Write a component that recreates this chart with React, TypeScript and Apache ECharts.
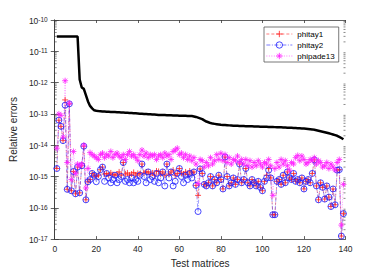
import { useEffect, useRef } from "react";
import * as echarts from "echarts";

const xTicks = [0, 20, 40, 60, 80, 100, 120, 140];
const yTickExponents = [-17, -16, -15, -14, -13, -12, -11, -10];
const seriesNames = ["phitay1", "phitay2", "phipade13"];

const phitay1 = [
  1.8e-15, 6.3e-14, 4e-14, 1.4e-14, 2.8e-13, 3.9e-16, 2.1e-13, 3.5e-16, 1.45e-15, 2.8e-16,
  2e-15, 3e-16, 2.2e-15, 9.3e-15, 1.8e-16, 6.8e-16, 8e-16, 1.25e-15, 1.1e-15, 1e-15,
  1.1e-15, 1.65e-15, 2e-15, 1.2e-15, 1.25e-15, 1.1e-15, 1.3e-15, 1.15e-15, 1.1e-15, 1.2e-15,
  1.4e-15, 1.1e-15, 2.8e-15, 1.2e-15, 1.3e-15, 1.1e-15, 1.2e-15, 1.35e-15, 1.1e-15, 1.25e-15,
  1.2e-15, 2.5e-15, 1.3e-15, 1.4e-15, 1.4e-15, 1.2e-15, 1.3e-15, 1.1e-15, 1.5e-15, 1.45e-15,
  1.2e-15, 1.4e-15, 1.1e-15, 2.5e-15, 1.2e-15, 1.4e-15, 1.6e-15, 1.1e-15, 1.25e-15, 1.8e-15,
  1.3e-15, 1.2e-15, 1.4e-15, 1.15e-15, 1.5e-15, 1.3e-15, 1.4e-15, 5.2e-16, 2.5e-16, 1.75e-15,
  1.25e-15, 5.6e-16, 5e-16, 6.3e-16, 1e-15, 5e-16, 8e-16, 6.3e-16, 1.1e-15, 8e-16,
  4e-16, 4.2e-15, 1e-15, 5e-16, 6.3e-16, 9e-16, 5.6e-16, 8e-16, 2.5e-15, 6.3e-16,
  8e-16, 1.8e-15, 6.3e-16, 5e-16, 8e-16, 6.3e-16, 5e-16, 7e-16, 4.5e-16, 3.5e-16,
  7e-16, 1.1e-15, 1.8e-15, 9e-16, 6e-17, 6e-17, 7e-16, 8e-16, 5.6e-16, 1.1e-15,
  6.3e-16, 1.4e-15, 9e-16, 8e-16, 1.25e-15, 7e-16, 8e-16, 6.3e-16, 9e-16, 4e-16,
  7e-16, 8e-16, 6.3e-16, 1.25e-15, 3.4e-15, 5e-16, 1.8e-16, 6.3e-16, 4.5e-16, 1.9e-16,
  5e-16, 2.2e-16, 1.1e-16, 4e-16, 1.25e-16, 1.6e-15, 1.65e-15, 1.25e-17, 6.5e-17,
];

const phitay2 = [
  1.8e-15, 6.3e-14, 4e-14, 1.4e-14, 1.9e-13, 3.9e-16, 2.1e-13, 3.5e-16, 1.45e-15, 2.8e-16,
  2e-15, 3e-16, 2.2e-15, 9.3e-15, 1.8e-16, 6.8e-16, 8e-16, 1.25e-15, 1.1e-15, 6.8e-16,
  1e-15, 1.65e-15, 2e-15, 7e-16, 1.25e-15, 9e-16, 6.3e-16, 8e-16, 1.1e-15, 6.3e-16,
  8e-16, 1e-15, 2.8e-15, 7e-16, 8e-16, 6.3e-16, 9e-16, 6.3e-16, 8e-16, 7e-16,
  1.1e-15, 2.5e-15, 1e-15, 6.3e-16, 1.4e-15, 8e-16, 1e-15, 7e-16, 1.25e-15, 6.3e-16,
  9e-16, 1.4e-15, 5e-16, 2.5e-15, 9e-16, 1.4e-15, 5e-16, 7e-16, 1.25e-15, 1.8e-15,
  1e-15, 6.3e-16, 1.1e-15, 8e-16, 1.25e-15, 9e-16, 1.4e-15, 5.2e-16, 7.6e-17, 1.75e-15,
  1.25e-15, 5.6e-16, 5e-16, 6.3e-16, 1e-15, 5e-16, 8e-16, 6.3e-16, 1.1e-15, 8e-16,
  4e-16, 4.2e-15, 1e-15, 5e-16, 6.3e-16, 9e-16, 5.6e-16, 8e-16, 2.5e-15, 6.3e-16,
  8e-16, 1.8e-15, 6.3e-16, 5e-16, 8e-16, 6.3e-16, 5e-16, 7e-16, 4.5e-16, 3.5e-16,
  7e-16, 9e-16, 1.6e-15, 9e-16, 6e-17, 6e-17, 7e-16, 8e-16, 5.6e-16, 1.1e-15,
  6.3e-16, 1.4e-15, 9e-16, 8e-16, 1.25e-15, 7e-16, 8e-16, 6.3e-16, 9e-16, 4e-16,
  7e-16, 8e-16, 6.3e-16, 1.25e-15, 3.4e-15, 5e-16, 1.8e-16, 6.3e-16, 4.5e-16, 1.9e-16,
  5e-16, 2.2e-16, 1.1e-16, 4e-16, 1.25e-16, 1.6e-15, 1.65e-15, 1.25e-17, 6.5e-17,
];

const phipade13 = [
  8e-15, 1e-13, 9e-14, 1.8e-14, 1.15e-12, 2.8e-15, 2.2e-13, 8e-16, 6.3e-15, 1.25e-15,
  2.5e-15, 2.2e-15, 2.5e-15, 1e-14, 4.3e-16, 1.8e-15, 5.8e-15, 5e-15, 4.5e-15, 4e-15,
  3.5e-15, 5e-15, 5.6e-15, 4e-15, 5e-15, 4.5e-15, 6.3e-15, 4e-15, 5e-15, 5.6e-15,
  4.5e-15, 4e-15, 5e-15, 3.5e-15, 5e-15, 6.3e-15, 4.5e-15, 5e-15, 4e-15, 3.2e-15,
  5e-15, 7e-15, 4.5e-15, 5.6e-15, 4e-15, 5e-15, 4.5e-15, 5e-15, 3.5e-15, 4.5e-15,
  5e-15, 4e-15, 5.6e-15, 4.5e-15, 5e-15, 3.5e-15, 6.3e-15, 7e-15, 8e-15, 5e-15,
  5.6e-15, 4e-15, 5e-15, 3.5e-15, 4.5e-15, 3.2e-15, 4e-15, 2.5e-15, 6e-16, 3.5e-15,
  3.2e-15, 2e-15, 2.8e-15, 2.2e-15, 4e-15, 2.5e-15, 3.2e-15, 5e-15, 3.5e-15, 5.5e-15,
  3.2e-15, 5e-15, 2.8e-15, 4e-15, 2.5e-15, 3.5e-15, 3.2e-15, 4.5e-15, 2.8e-15, 3.5e-15,
  2.5e-15, 3.5e-15, 2.2e-15, 3.2e-15, 2e-15, 2.8e-15, 2.2e-15, 3.2e-15, 2.5e-15, 2e-15,
  2.8e-15, 2.5e-15, 3.5e-15, 2.2e-15, 2.5e-16, 1.8e-15, 2.8e-15, 2e-15, 3.5e-15, 2.5e-15,
  3.2e-15, 2.2e-15, 1.6e-15, 2.8e-15, 2.5e-15, 4e-15, 4.7e-15, 3.2e-15, 4.5e-15, 3.5e-15,
  2.5e-15, 2.8e-15, 3.5e-15, 3.2e-15, 4e-15, 2.5e-15, 3.2e-15, 2.8e-15, 2e-15, 2.2e-15,
  2.8e-15, 1.8e-15, 2.5e-15, 2e-15, 1.6e-15, 2.8e-15, 3.5e-15, 2.8e-17, 5.6e-16,
];

const bound = [
  2.95e-11, 2.95e-11, 2.95e-11, 2.95e-11, 2.95e-11, 2.95e-11, 2.95e-11, 2.95e-11, 2.95e-11, 2.95e-11,
  2.95e-11, 1.26e-12, 7e-13, 6.3e-13, 4e-13, 2.5e-13, 1.8e-13, 1.5e-13, 1.3e-13, 1.26e-13,
  1.23e-13, 1.22e-13, 1.2e-13, 1.19e-13, 1.18e-13, 1.17e-13, 1.16e-13, 1.15e-13, 1.14e-13, 1.13e-13,
  1.12e-13, 1.11e-13, 1.1e-13, 1.09e-13, 1.08e-13, 1.07e-13, 1.06e-13, 1.05e-13, 1.04e-13, 1.03e-13,
  1.02e-13, 1.01e-13, 1.0e-13, 9.9e-14, 9.8e-14, 9.7e-14, 9.6e-14, 9.5e-14, 9.4e-14, 9.3e-14,
  9.25e-14, 9.2e-14, 9.15e-14, 9.1e-14, 9.05e-14, 9.0e-14, 8.95e-14, 8.9e-14, 8.85e-14, 8.8e-14,
  8.75e-14, 8.7e-14, 8.65e-14, 8.6e-14, 8.55e-14, 8.5e-14, 8.3e-14, 8.0e-14, 7.6e-14, 7.2e-14,
  6.8e-14, 6.2e-14, 5.7e-14, 5.4e-14, 5.1e-14, 4.9e-14, 4.8e-14, 4.7e-14, 4.6e-14, 4.5e-14,
  4.45e-14, 4.4e-14, 4.35e-14, 4.3e-14, 4.25e-14, 4.2e-14, 4.18e-14, 4.15e-14, 4.12e-14, 4.1e-14,
  4.08e-14, 4.06e-14, 4.04e-14, 4.02e-14, 4.0e-14, 3.98e-14, 3.96e-14, 3.94e-14, 3.92e-14, 3.9e-14,
  3.88e-14, 3.86e-14, 3.84e-14, 3.82e-14, 3.8e-14, 3.78e-14, 3.76e-14, 3.74e-14, 3.72e-14, 3.7e-14,
  3.67e-14, 3.64e-14, 3.61e-14, 3.58e-14, 3.55e-14, 3.52e-14, 3.49e-14, 3.46e-14, 3.43e-14, 3.4e-14,
  3.35e-14, 3.3e-14, 3.25e-14, 3.2e-14, 3.1e-14, 3.0e-14, 2.9e-14, 2.8e-14, 2.7e-14, 2.6e-14,
  2.5e-14, 2.4e-14, 2.3e-14, 2.2e-14, 2.1e-14, 2.0e-14, 1.85e-14, 1.7e-14, 1.55e-14,
];

const FONT = "Liberation Sans, Arial, Helvetica, sans-serif";
const AXIS = "#3a3a3a";
const PLUS = "path://M5,0 L5,10 M0,5 L10,5";
const STAR = "path://M5,0 L5,10 M0,5 L10,5 M1.5,1.5 L8.5,8.5 M8.5,1.5 L1.5,8.5";
const RING = "path://M10,5 A5,5 0 1,1 0,5 A5,5 0 1,1 10,5 Z";

export default function App() {
  const ref = useRef<HTMLDivElement>(null);
  useEffect(() => {
    const chart = echarts.init(ref.current!, null, { renderer: "svg" });
    const xMin = xTicks[0];
    const xMax = xTicks[xTicks.length - 1];
    const yMin = Math.pow(10, yTickExponents[0]);
    const yMax = Math.pow(10, yTickExponents[yTickExponents.length - 1]);
    const minorTicks: number[][] = [];
    for (let k = 0; k < yTickExponents.length - 1; k++) {
      for (let m = 2; m <= 9; m++) minorTicks.push([xMin, m * Math.pow(10, yTickExponents[k])]);
    }
    const toPts = (arr: number[]) => arr.map((v, i) => [i + 1, v]);
    const yAxisBase = {
      type: "log" as const,
      logBase: 10,
      min: yMin,
      max: yMax,
      splitNumber: 7,
      splitLine: { show: false },
      axisLine: { show: true, lineStyle: { color: AXIS, width: 0.8 } },
      axisTick: { show: true, inside: true, length: 4, lineStyle: { color: AXIS, width: 0.8 } },
    };
    const xAxisBase = {
      type: "value" as const,
      min: xMin,
      max: xMax,
      interval: 20,
      splitLine: { show: false },
      axisLine: { show: true, lineStyle: { color: AXIS, width: 0.8 } },
      axisTick: { show: true, inside: true, length: 3, lineStyle: { color: AXIS, width: 0.8 } },
    };
    chart.setOption({
      animation: false,
      backgroundColor: "#fff",
      grid: { left: 49.5, top: 20, width: 296, height: 223, containLabel: false },
      legend: {
        data: seriesNames,
        orient: "vertical",
        left: 264,
        top: 27,
        itemWidth: 26,
        itemHeight: 8,
        itemGap: 3,
        padding: [3, 4, 2, 2],
        borderColor: "#555",
        borderWidth: 0.8,
        backgroundColor: "#fff",
        lineStyle: { width: 0.7 },
        itemStyle: { borderWidth: 0.8 },
        textStyle: { fontSize: 8, fontFamily: FONT, color: "#000" },
      },
      xAxis: [
        {
          ...xAxisBase,
          position: "bottom",
          name: "Test matrices",
          nameLocation: "middle",
          nameGap: 16,
          nameTextStyle: { fontSize: 10, fontFamily: FONT, color: "#262626" },
          axisLabel: { fontSize: 8.5, fontFamily: FONT, color: "#262626", margin: 5 },
        },
        { ...xAxisBase, position: "top", axisLabel: { show: false } },
      ],
      yAxis: [
        {
          ...yAxisBase,
          position: "left",
          name: "Relative errors",
          nameLocation: "middle",
          nameGap: 26,
          nameTextStyle: { fontSize: 10, fontFamily: FONT, color: "#262626" },
          axisLabel: {
            margin: 7,
            padding: [1, 0, 0, 0],
            formatter: (v: number) => `{b|10}{s|${Math.round(Math.log10(v))}}`,
            rich: {
              b: { fontSize: 8.5, fontFamily: FONT, color: "#262626", lineHeight: 9, verticalAlign: "bottom" },
              s: { fontSize: 6.5, fontFamily: FONT, color: "#262626", lineHeight: 7, padding: [0, 0, 4, 0], verticalAlign: "top" },
            },
          },
        },
        { ...yAxisBase, position: "right", axisLabel: { show: false } },
      ],
      series: [
        {
          type: "custom",
          name: "minor",
          coordinateSystem: "cartesian2d",
          silent: true,
          data: minorTicks,
          renderItem: (_p: any, api: any) => {
            const v = api.value(1);
            const a = api.coord([xMin, v]);
            const b = api.coord([xMax, v]);
            const st = { stroke: AXIS, lineWidth: 0.6 };
            return {
              type: "group",
              children: [
                { type: "line", shape: { x1: a[0], y1: a[1], x2: a[0] + 2, y2: a[1] }, style: st },
                { type: "line", shape: { x1: b[0], y1: b[1], x2: b[0] - 2, y2: b[1] }, style: st },
              ],
            };
          },
        },
        {
          type: "line",
          name: "phitay1",
          data: toPts(phitay1),
          symbol: PLUS,
          symbolSize: 6,
          lineStyle: { color: "#ff0000", width: 0.5, opacity: 0.75, type: [3, 2] },
          itemStyle: { color: "transparent", borderColor: "#ff2020", borderWidth: 0.8 },
        },
        {
          type: "line",
          name: "phitay2",
          data: toPts(phitay2),
          symbol: RING,
          symbolSize: 6,
          lineStyle: { color: "#0000ff", width: 0.5, opacity: 0.75, type: [4, 1.5, 1, 1.5] },
          itemStyle: { color: "transparent", borderColor: "#1a1aff", borderWidth: 0.8 },
        },
        {
          type: "line",
          name: "phipade13",
          data: toPts(phipade13),
          symbol: STAR,
          symbolSize: 6,
          lineStyle: { color: "#ff00ff", width: 0.5, opacity: 0.75, type: [1, 1.5] },
          itemStyle: { color: "transparent", borderColor: "#ff20ff", borderWidth: 0.8 },
        },
        {
          type: "line",
          name: "bound",
          data: toPts(bound),
          symbol: "none",
          lineStyle: { color: "#000", width: 2.5 },
        },
      ],
    });
    return () => chart.dispose();
  }, []);
  return (
    <div
      ref={ref}
      style={{ position: "fixed", left: 0, top: 0, width: 382, height: 273, background: "#fff" }}
    />
  );
}
